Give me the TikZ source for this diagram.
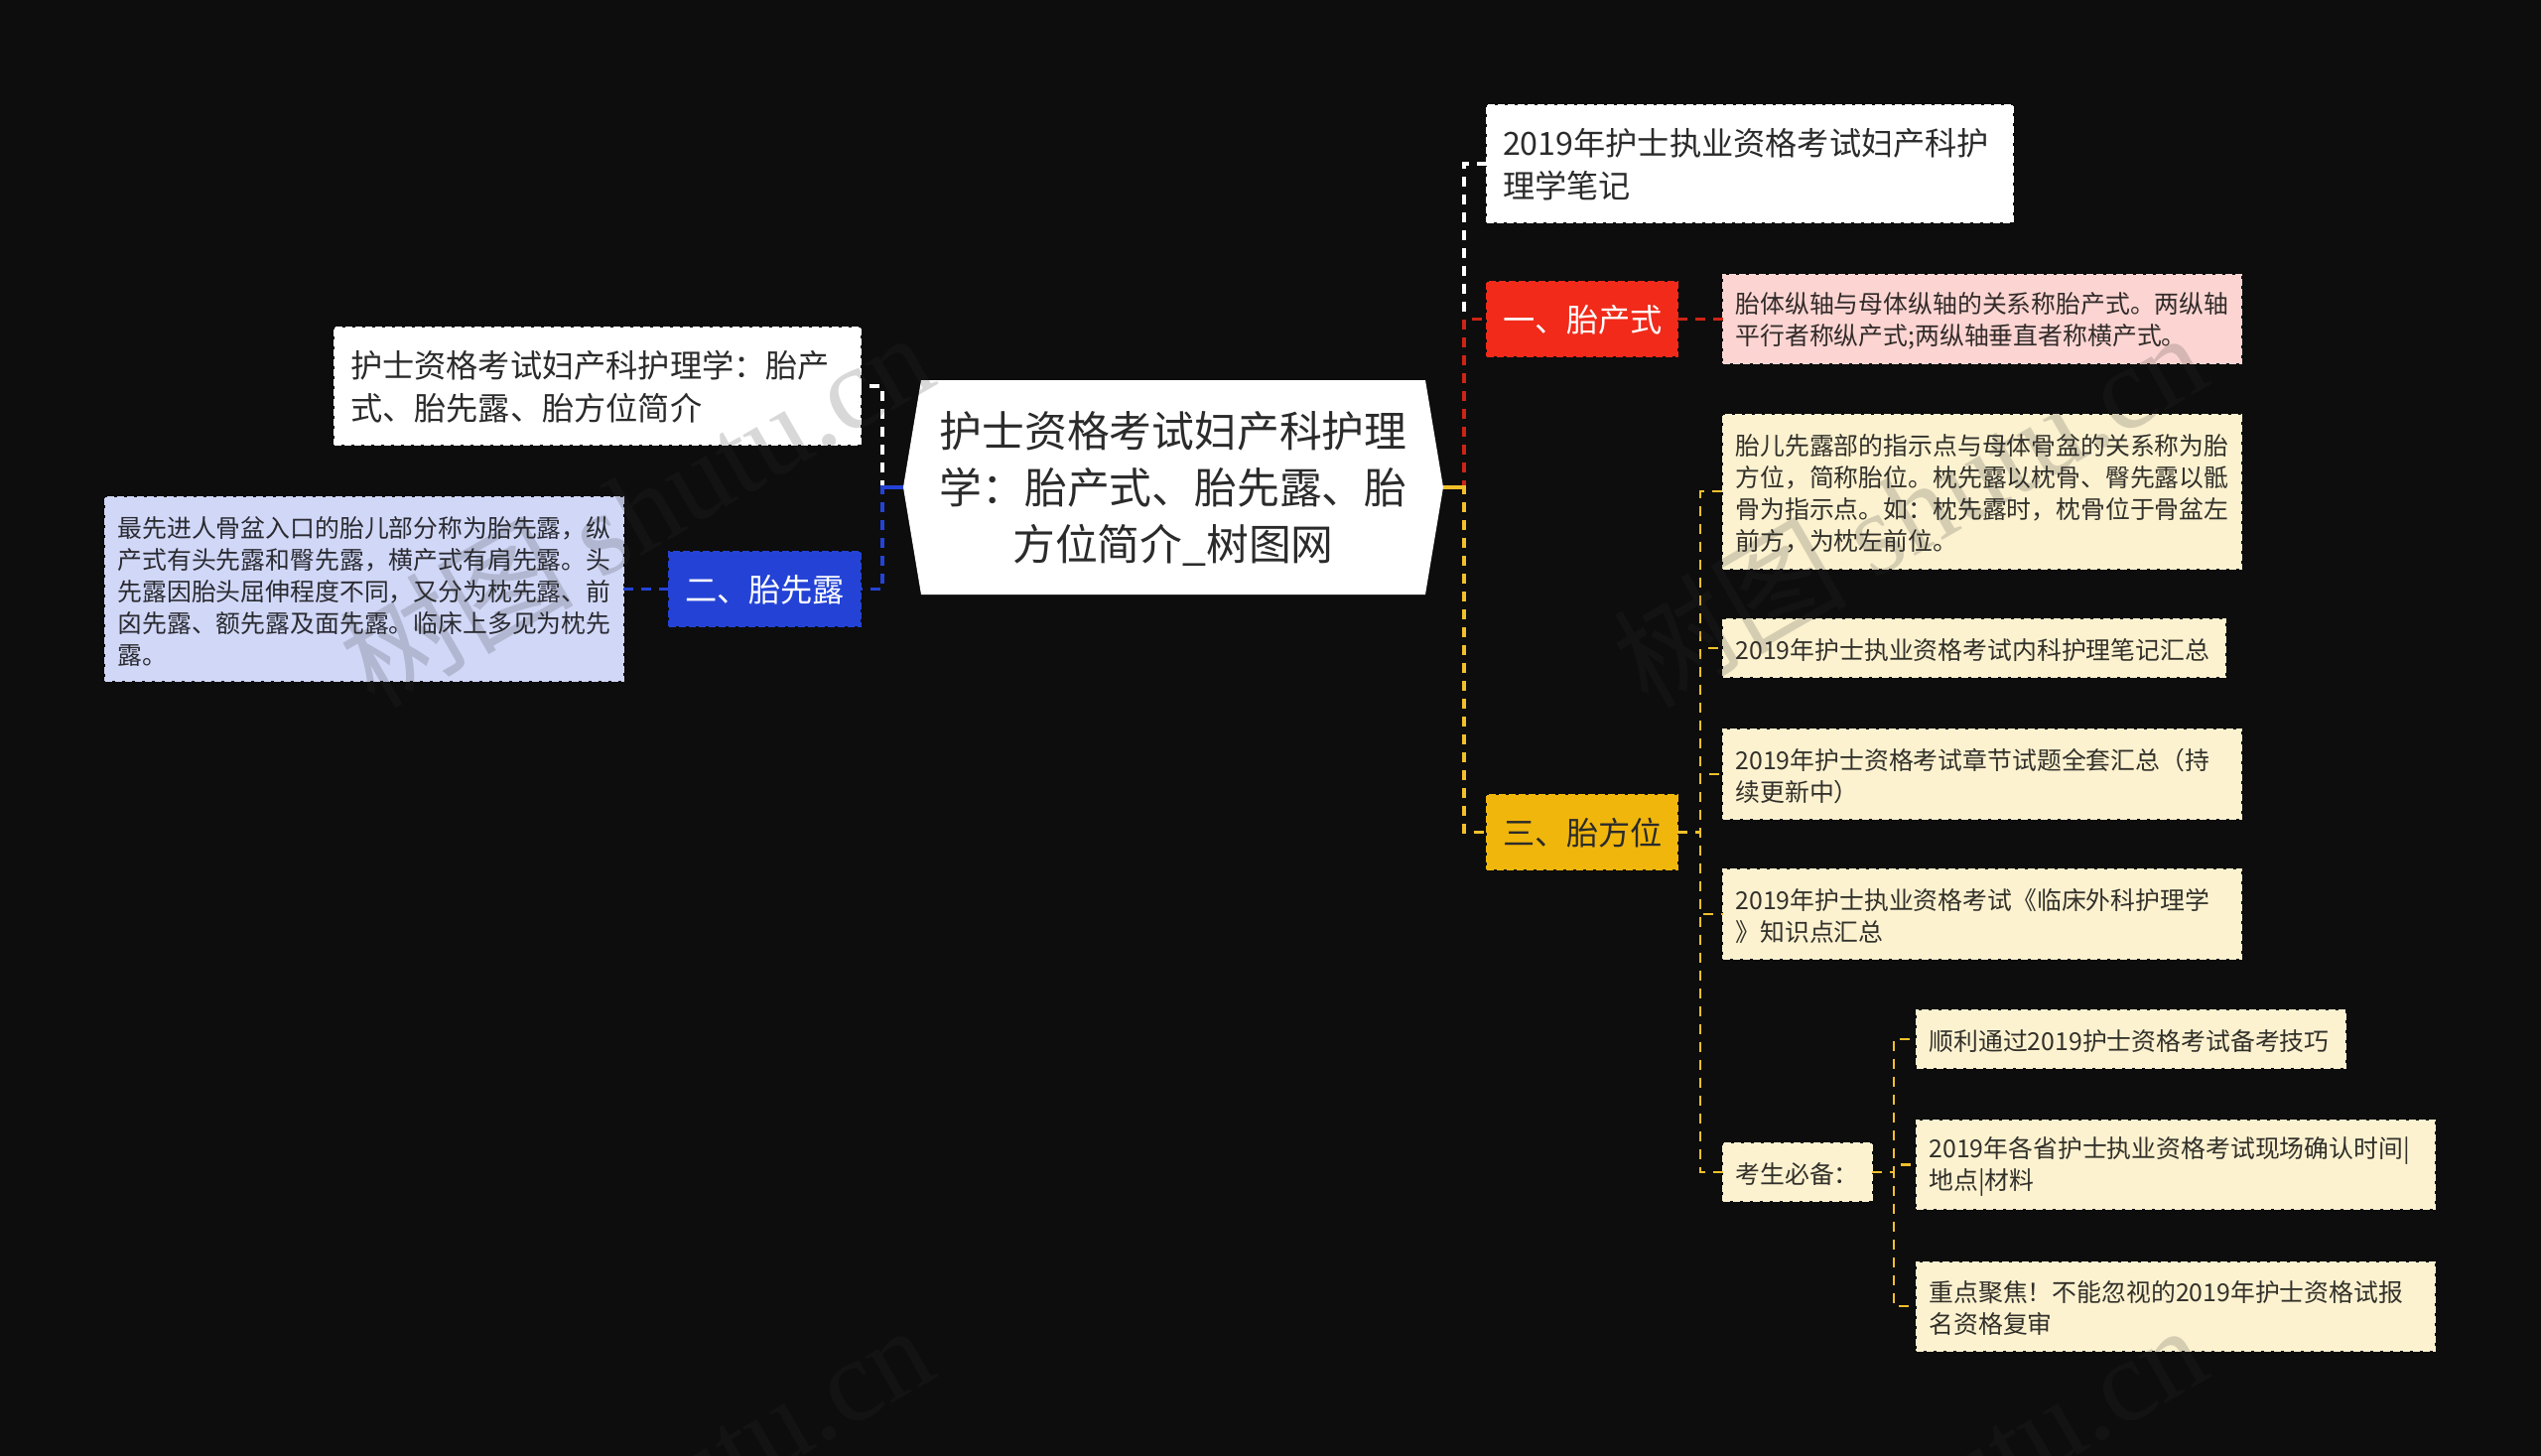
\documentclass[tikz,border=0pt]{standalone}
\usepackage{fontspec}
\setmainfont{Noto Sans CJK SC}
\newfontfamily\wmserif{Liberation Serif}
\newcommand{\zc}{\symbol{"FF0C}}
\newcommand{\zm}{\symbol{"FF1A}}
\newcommand{\zb}{\symbol{"FF01}}
\newcommand{\zl}{\symbol{"FF08}}
\newcommand{\zr}{\symbol{"FF09}}
\definecolor{bgc}{HTML}{0D0D0D}
\definecolor{redc}{HTML}{F12A1A}
\definecolor{bluec}{HTML}{2443D6}
\definecolor{yelc}{HTML}{F1B60C}
\definecolor{yelline}{HTML}{F2C02A}
\definecolor{creamc}{HTML}{FCF2D0}
\definecolor{pinkc}{HTML}{FCD5D2}
\definecolor{lavc}{HTML}{D1D7F7}
\definecolor{txtc}{HTML}{2B2B2B}
\definecolor{wmc}{HTML}{313131}
\tikzset{
  bxbase/.style={rectangle,anchor=center,inner ysep=0pt,outer sep=0pt,align=left,
    line width=2pt,dash pattern=on 7pt off 3pt},
  bxa/.style 2 args={bxbase,inner xsep=16pt,minimum width=#1pt,minimum height=#2pt,text width=#1pt-32pt,
    font=\fontsize{32.2}{43}\selectfont,execute at begin node={\rule{0pt}{28pt}}},
  bxb/.style 2 args={bxbase,inner xsep=12.5pt,minimum width=#1pt,minimum height=#2pt,text width=#1pt-25pt,
    font=\fontsize{24.85}{32}\selectfont,execute at begin node={\rule{0pt}{25pt}}},
  whitebox/.style={fill=white,draw=white,text=txtc},
  redbox/.style={fill=redc,draw=redc,text=white,align=center},
  bluebox/.style={fill=bluec,draw=bluec,text=white,align=center},
  yelbox/.style={fill=yelc,draw=yelc,text=txtc,align=center},
  creambox/.style={fill=creamc,draw=creamc,text=black!80!creamc},
  pinkbox/.style={fill=pinkc,draw=pinkc,text=black!80!pinkc},
  lavbox/.style={fill=lavc,draw=lavc,text=black!80!lavc},
  rootbox/.style={rectangle,inner sep=0pt,outer sep=0pt,minimum width=544pt,minimum height=216pt,
    text width=500pt,align=center,text=txtc,font=\fontsize{42.8}{57}\selectfont,
    execute at begin node={\rule{0pt}{39pt}},
    path picture={\fill[white]
      (path picture bounding box.west)
      -- ([xshift=18pt]path picture bounding box.north west)
      -- ([xshift=-18pt]path picture bounding box.north east)
      -- (path picture bounding box.east)
      -- ([xshift=-18pt]path picture bounding box.south east)
      -- ([xshift=18pt]path picture bounding box.south west) -- cycle;}},
  conn/.style={line width=3.5pt,dash pattern=on 10pt off 8pt},
  connb/.style={line width=2.5pt,dash pattern=on 10pt off 8pt,draw=yelline},
  stubline/.style={line width=4pt},
  wmark/.style={rotate=30,text=wmc,opacity=0.19,inner sep=0pt,font=\fontsize{118}{118}\selectfont},
}
\begin{document}
\begin{tikzpicture}[x=1pt,y=-1pt]
\useasboundingbox (0,0) rectangle (2560,1467);
\fill[bgc] (0,0) rectangle (2560,1467);

\node[rootbox] (root) at (1182,491) {护士资格考试妇产科护理\\学\zm{}胎产式、胎先露、胎\\方位简介\_树图网};

\node[bxa={530}{118},whitebox] (l1) at (602,389) {护士资格考试妇产科护理学\zm{}胎产\\式、胎先露、胎方位简介};
\node[bxa={193}{75},bluebox] (l2) at (770.5,593.5) {二、胎先露};
\node[bxb={522}{185},lavbox] (lav) at (367,593.5) {最先进人骨盆入口的胎儿部分称为胎先露\zc{}纵\\产式有头先露和臀先露\zc{}横产式有肩先露。头\\先露因胎头屈伸程度不同\zc{}又分为枕先露、前\\囟先露、额先露及面先露。临床上多见为枕先\\露。};

\node[bxa={530}{118},whitebox] (r0) at (1763,165) {2019年护士执业资格考试妇产科护\\理学笔记};
\node[bxa={192}{75},redbox] (r1) at (1594,321.5) {一、胎产式};
\node[bxb={522}{89},pinkbox] (pink) at (1997,321.5) {胎体纵轴与母体纵轴的关系称胎产式。两纵轴\\平行者称纵产式;两纵轴垂直者称横产式。};
\node[bxa={192}{75},yelbox] (r3) at (1594,838.5) {三、胎方位};

\node[bxb={522}{155},creambox] (c1) at (1997,495) {胎儿先露部的指示点与母体骨盆的关系称为胎\\方位\zc{}简称胎位。枕先露以枕骨、臀先露以骶\\骨为指示点。如\zm{}枕先露时\zc{}枕骨位于骨盆左\\前方\zc{}为枕左前位。};
\node[bxb={506}{58},creambox] (c2) at (1989,653) {2019年护士执业资格考试内科护理笔记汇总};
\node[bxb={522}{90},creambox] (c3) at (1997,780) {2019年护士资格考试章节试题全套汇总\zl{}持\\续更新中\zr{}};
\node[bxb={522}{90},creambox] (c4) at (1997,921) {2019年护士执业资格考试《临床外科护理学\\》知识点汇总};
\node[bxb={150}{58},creambox] (kao) at (1811,1181) {考生必备\zm{}};

\node[bxb={432}{58},creambox] (n1) at (2147,1047) {顺利通过2019护士资格考试备考技巧};
\node[bxb={522}{89},creambox] (n2) at (2192,1173.5) {2019年各省护士执业资格考试现场确认时间|\\地点|材料};
\node[bxb={522}{89},creambox] (n3) at (2192,1316) {重点聚焦\zb{}不能忽视的2019年护士资格试报\\名资格复审};

\draw[conn,draw=white] (root.west) -- ++(-21,0) |- (l1.east);
\draw[conn,draw=bluec] (root.west) -- ++(-21,0) |- (l2.east);
\draw[stubline,draw=bluec] (root.west) -- ++(-21,0);
\draw[conn,draw=bluec,line width=2.5pt] (l2.west) -- (lav.east);

\draw[conn,draw=white] (root.east) -- ++(21,0) |- (r0.west);
\draw[conn,draw=redc!85!black] (root.east) -- ++(21,0) |- (r1.west);
\draw[conn,draw=yelline] (root.east) -- ++(21,0) |- (r3.west);
\draw[stubline,draw=yelline] (root.east) -- ++(21,0);
\draw[conn,draw=redc!85!black,line width=2.5pt] (r1.east) -- (pink.west);

\draw[connb] (r3.east) -- ++(23,0) |- (c1.west);
\draw[connb] (r3.east) -- ++(23,0) |- (c2.west);
\draw[connb] (r3.east) -- ++(23,0) |- (c3.west);
\draw[connb] (r3.east) -- ++(23,0) |- (c4.west);
\draw[connb] (r3.east) -- ++(23,0) |- (kao.west);

\draw[connb] (kao.east) -- ++(22,0) |- (n1.west);
\draw[connb] (kao.east) -- ++(22,0) |- (n2.west);
\draw[connb] (kao.east) -- ++(22,0) |- (n3.west);

\node[wmark] (wm1) at (640,512) {树图 {\wmserif shutu.cn}};
\node[wmark] (wm2) at (1923,512) {树图 {\wmserif shutu.cn}};
\node[wmark] (wm3) at (640,1512) {树图 {\wmserif shutu.cn}};
\node[wmark] (wm4) at (1923,1512) {树图 {\wmserif shutu.cn}};
\end{tikzpicture}
\end{document}
